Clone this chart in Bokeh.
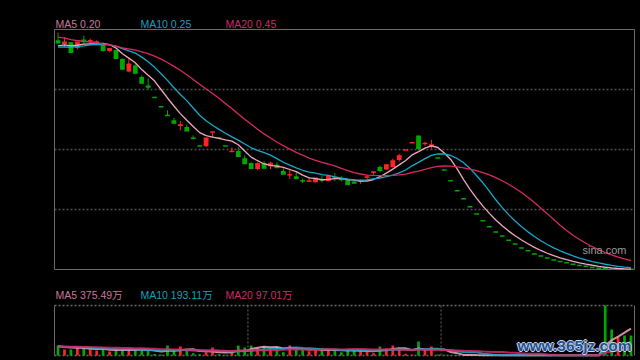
import numpy as np
import pandas as pd
from bokeh.plotting import figure
from bokeh.models import Range1d, ColumnDataSource
from bokeh.core.properties import value
from bokeh.embed import file_html
from bokeh.resources import INLINE

# ---------------- data ----------------
opens = [5.88, 5.79, 5.83, 5.69, 5.90, 5.85, 5.82, 5.78, 5.61, 5.64,
         5.41, 5.10, 5.25, 4.96, 4.75, 4.45, 4.22, 4.00, 3.88, 3.74,
         3.71, 3.44, 3.24, 3.23, 3.59, 3.44, 3.24, 3.09, 3.11, 2.93,
         2.81, 2.66, 2.81, 2.73, 2.77, 2.61, 2.51, 2.48, 2.37, 2.35,
         2.33, 2.40, 2.36, 2.46, 2.41, 2.39, 2.35, 2.35, 2.45, 2.58,
         2.71, 2.65, 2.71, 2.89, 3.14, 3.32, 3.50, 3.29, 3.24, 2.94,
         2.64, 2.37, 2.12, 1.92, 1.72, 1.54, 1.37, 1.22, 1.09, 0.99,
         0.88, 0.79, 0.69, 0.62, 0.54, 0.49, 0.44, 0.39, 0.35, 0.32,
         0.28, 0.25, 0.23, 0.20, 0.18, 0.17, 0.163, 0.158, 0.157, 0.155]
highs = [6.07, 5.96, 5.84, 5.84, 6.00, 5.92, 5.88, 5.80, 5.68, 5.65,
         5.43, 5.42, 5.28, 5.00, 4.93, 4.45, 4.22, 4.13, 3.94, 3.86,
         3.77, 3.50, 3.24, 3.44, 3.59, 3.44, 3.24, 3.20, 3.21, 3.00,
         2.83, 2.83, 2.86, 2.84, 2.83, 2.68, 2.67, 2.58, 2.42, 2.46,
         2.44, 2.48, 2.49, 2.56, 2.48, 2.40, 2.36, 2.40, 2.52, 2.61,
         2.75, 2.78, 2.92, 3.04, 3.14, 3.32, 3.50, 3.34, 3.39, 2.94,
         2.64, 2.37, 2.12, 1.92, 1.72, 1.54, 1.37, 1.22, 1.09, 0.99,
         0.88, 0.79, 0.69, 0.62, 0.54, 0.49, 0.44, 0.39, 0.35, 0.32,
         0.28, 0.25, 0.23, 0.20, 0.18, 0.17, 0.163, 0.162, 0.157, 0.155]
lows = [5.81, 5.71, 5.57, 5.65, 5.79, 5.75, 5.77, 5.60, 5.59, 5.41,
        5.15, 5.08, 5.05, 4.80, 4.65, 4.45, 4.22, 4.00, 3.80, 3.63,
        3.61, 3.43, 3.24, 3.22, 3.45, 3.44, 3.24, 3.09, 2.97, 2.79,
        2.67, 2.64, 2.69, 2.66, 2.69, 2.53, 2.42, 2.42, 2.31, 2.35,
        2.32, 2.33, 2.35, 2.36, 2.35, 2.27, 2.30, 2.29, 2.39, 2.52,
        2.58, 2.64, 2.70, 2.85, 3.14, 3.32, 3.14, 3.25, 3.17, 2.94,
        2.64, 2.37, 2.12, 1.92, 1.72, 1.54, 1.37, 1.22, 1.09, 0.99,
        0.88, 0.79, 0.69, 0.62, 0.54, 0.49, 0.44, 0.39, 0.35, 0.32,
        0.28, 0.25, 0.23, 0.20, 0.18, 0.17, 0.163, 0.158, 0.157, 0.155]
closes = [5.82, 5.83, 5.58, 5.83, 5.85, 5.87, 5.84, 5.63, 5.67, 5.43,
          5.16, 5.28, 5.06, 4.81, 4.71, 4.45, 4.22, 4.00, 3.81, 3.76,
          3.62, 3.43, 3.24, 3.43, 3.59, 3.44, 3.24, 3.10, 2.98, 2.80,
          2.68, 2.79, 2.69, 2.80, 2.70, 2.54, 2.52, 2.43, 2.36, 2.36,
          2.43, 2.39, 2.48, 2.45, 2.40, 2.28, 2.31, 2.36, 2.46, 2.59,
          2.63, 2.76, 2.86, 2.99, 3.14, 3.32, 3.18, 3.30, 3.26, 2.94,
          2.64, 2.37, 2.12, 1.92, 1.72, 1.54, 1.37, 1.22, 1.09, 0.99,
          0.88, 0.79, 0.69, 0.62, 0.54, 0.49, 0.44, 0.39, 0.35, 0.32,
          0.28, 0.25, 0.23, 0.20, 0.18, 0.17, 0.163, 0.162, 0.157, 0.155]
# volume, in 万
volumes = [140, 84, 84, 116, 108, 84, 70, 88, 56, 88,
           84, 80, 80, 84, 80, 20, 14, 140, 70, 126,
           70, 32, 18, 46, 112, 18, 10, 46, 140, 112,
           140, 102, 122, 108, 119, 46, 140, 81, 84, 60,
           84, 77, 80, 77, 45, 77, 77, 63, 56, 31,
           126, 101, 140, 108, 25, 14, 196, 80, 126, 14,
           10, 8, 6, 5, 5, 4, 4, 4, 3, 3,
           3, 3, 3, 2, 2, 2, 2, 2, 2, 2,
           2, 2, 2, 2, 3, 700, 364, 256, 280, 280]
# sessions before the visible window (needed for the moving averages)
prior_closes = [6.35, 6.32, 6.28, 6.25, 6.22, 6.20, 6.18, 6.15, 6.12, 6.03,
                5.75, 5.70, 5.66, 5.65, 5.64, 5.70, 5.72, 5.74, 5.72]
prior_volumes = [120, 135, 110, 125, 140, 115, 130, 120, 125, 135,
                 110, 120, 130, 125, 115, 140, 120, 130, 125]
ma_periods = [5, 10, 20]
ma_price_labels = ["MA5 0.20", "MA10 0.25", "MA20 0.45"]
ma_vol_labels = ["MA5 375.49万", "MA10 193.11万", "MA20 97.01万"]
month_breaks = [29.5, 59.5]
price_grid = [1.65, 3.15, 4.65]

# ---------------- layout / styling ----------------
BG = "#000000"
UP = "#ff2424"
DOWN = "#00a800"
BORDER = "#6a6a6a"
DOT = "#505050"
MA_LINE = ["#f0a6bf", "#16a9c9", "#d8286a"]
MA_TEXT = ["#c8799a", "#1a9fbf", "#cf2b66"]
FONT = "Liberation Sans, Noto Sans CJK SC"

X0, X1 = -0.55, 89.55          # panel left / right edges (index units)
P_LO, P_HI = 0.15, 6.15        # price panel bottom / top
V_HI = 700                      # volume panel top

n = len(closes)
x = list(range(n))
colors = []
for i in range(n):
    if closes[i] > opens[i]:
        colors.append(UP)
    elif closes[i] < opens[i]:
        colors.append(DOWN)
    else:
        prev = closes[i - 1] if i > 0 else prior_closes[-1]
        colors.append(UP if closes[i] >= prev else DOWN)

all_c = pd.Series(prior_closes + closes)
all_v = pd.Series(prior_volumes + volumes)
ma_price = [all_c.rolling(k).mean().values[-n:] for k in ma_periods]
ma_vol = [all_v.rolling(k).mean().values[-n:] for k in ma_periods]

src = ColumnDataSource(dict(
    x=x, o=opens, h=highs, l=lows, c=closes, v=volumes,
    top=[max(a, b) for a, b in zip(opens, closes)],
    bot=[min(a, b) for a, b in zip(opens, closes)],
    xl=[i - 0.37 for i in x], xr=[i + 0.37 for i in x],
    color=colors,
))

p = figure(width=640, height=360,
           x_range=Range1d(-0.861, 89.86), y_range=Range1d(-2.05, 6.675),
           x_axis_type=None, y_axis_type=None, toolbar_location=None,
           output_backend="svg", background_fill_color=BG, border_fill_color=BG,
           min_border_left=52, min_border_right=4, min_border_top=8, min_border_bottom=3)
p.extra_y_ranges = {"vol": Range1d(-28, 4858)}
p.grid.visible = False
p.outline_line_color = None

# ---- price panel frame and grid
for g in price_grid:
    p.segment(x0=[X0], y0=[g], x1=[X1], y1=[g], line_color=DOT, line_dash="2 2", line_width=1.3)
p.quad(left=[X0], right=[X1], bottom=[P_LO], top=[P_HI], fill_color=None,
       line_color=BORDER, line_width=1)

# ---- candles
p.segment(x0="x", y0="h", x1="x", y1="l", color="color", line_width=1, source=src)
p.vbar(x="x", width=0.74, top="top", bottom="bot", fill_color="color",
       line_color=None, source=src)
p.segment(x0="xl", y0="c", x1="xr", y1="c", color="color", line_width=1.5, source=src)

for k in range(3):
    p.line(x, ma_price[k], line_color=MA_LINE[k], line_width=1.3)

p.text(x=[-0.395, 12.81, 26.01], y=[6.30] * 3, text=ma_price_labels,
       text_color=MA_TEXT, text_font=value(FONT), text_font_size="10.5px",
       text_baseline="alphabetic")
p.text(x=[81.47], y=[0.65], text=["sina.com"], text_color="#9a9a9a",
       text_font=value(FONT), text_font_size="11px", text_baseline="alphabetic")

# ---- volume panel
p.segment(x0=[X0, X0], y0=[V_HI, 0], x1=[X1, X1], y1=[V_HI, 0], line_color=BORDER,
          line_dash="2 2", line_width=1.3, y_range_name="vol")
p.segment(x0=[X0, X1], y0=[0, 0], x1=[X0, X1], y1=[V_HI, V_HI], line_color=BORDER,
          line_width=1, y_range_name="vol")
p.segment(x0=month_breaks, y0=[0] * len(month_breaks), x1=month_breaks,
          y1=[V_HI] * len(month_breaks), line_color=BORDER, line_dash="2 2",
          line_width=1, y_range_name="vol")

p.vbar(x="x", width=0.42, top="v", bottom=0, fill_color="color", line_color=None,
       source=src, y_range_name="vol")
for k in range(3):
    p.line(x, ma_vol[k], line_color=MA_LINE[k], line_width=2, line_alpha=0.85,
           y_range_name="vol")

p.text(x=[-0.395, 12.81, 26.01], y=[854] * 3, text=ma_vol_labels,
       text_color=MA_TEXT, text_font=value(FONT), text_font_size="10.5px",
       text_baseline="alphabetic", y_range_name="vol")

wm_x, wm_y = 71.37, 140
for dx, dy in [(-1, 0), (1, 0), (0, -1), (0, 1)]:
    p.text(x=[wm_x], y=[wm_y], x_offset=dx, y_offset=dy, text=["www.365jz.com"],
           text_color="#c9d8ee", text_font=value("Liberation Sans"),
           text_font_size="15.5px", text_font_style="bold", text_baseline="alphabetic",
           y_range_name="vol")
p.text(x=[wm_x], y=[wm_y], text=["www.365jz.com"], text_color="#24508f",
       text_font=value("Liberation Sans"), text_font_size="15.5px",
       text_font_style="bold", text_baseline="alphabetic", y_range_name="vol")

html = file_html(p, INLINE)
html = html.replace("<head>", "<head><style>html,body{background:#000000;}</style>", 1)
open("out.html", "w").write(html)
